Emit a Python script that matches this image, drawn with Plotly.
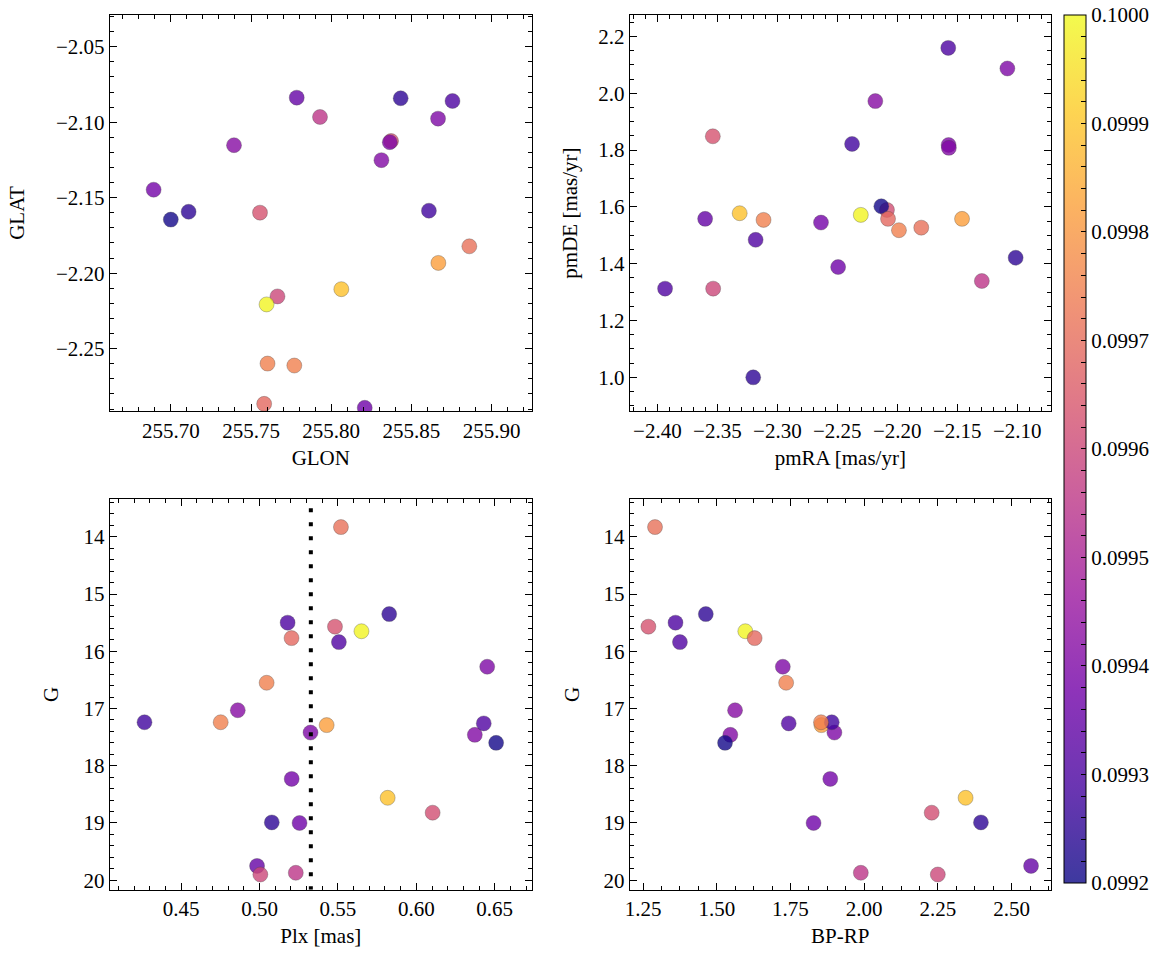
import plotly.graph_objects as go
import plotly.colors as pc

# ---- data (one entry per star) ----
star = ["S23", "S20", "S25", "S13", "S15", "S16", "S11", "S17", "S12", "S5", "S6", "S1", "S2",
        "S3", "S4", "S7", "S8", "S9", "S10", "S14", "S18", "S19", "S21", "S22", "S24"]
color_val = [0.09935, 0.09962, 0.09960, 0.09982, 0.09940, 0.09941, 0.09928, 0.09921, 0.09975, 0.09999,
             0.09969, 0.09971, 0.09925, 0.09930, 0.09963, 0.09931, 0.09940, 0.09975, 0.09942, 0.09931,
             0.09938, 0.09989, 0.09925, 0.09937, 0.09955]
glon = [255.7785, 255.8373, 255.7665, 255.8668, 255.8365, 255.8313, 255.8609, 255.7000, 255.7770, 255.7597,
        255.7582, 255.8861, 255.8433, 255.8756, 255.7556, 255.7900, 255.8666, 255.7603, 255.7394, 255.7300,
        255.6893, 255.8063, 255.7111, 255.8209, 255.7930]
glat = [-2.0837, -2.1124, -2.2154, -2.1932, -2.1132, -2.1251, -2.1586, -2.1645, -2.2612, -2.2207,
        -2.2866, -2.1822, -2.0841, -2.0859, -2.1599, -2.3050, -2.0976, -2.2599, -2.1152, -2.3180,
        -2.1447, -2.2106, -2.1593, -2.2892, -2.0965]
pmra = [-2.3602, -2.2086, -2.3535, -2.1460, -2.1572, -2.1570, -2.2377, -2.2133, -2.1986, -2.2304,
        -2.2077, -2.1800, -2.3201, -2.1575, -2.3538, -2.3181, -2.1082, -2.3115, -2.2183, -2.3936,
        -2.2636, -2.3314, -2.1013, -2.2493, -2.1295]
pmde = [1.558, 1.5895, 1.3123, 1.558, 1.818, 1.808, 1.8218, 1.6023, 1.518, 1.572,
        1.558, 1.527, 1.000, 2.160, 1.8487, 1.4842, 2.0875, 1.5544, 1.9727, 1.3123,
        1.545, 1.5778, 1.4211, 1.3883, 1.3392]
plx = [0.4984, 0.6104, 0.5005, 0.5428, 0.5325, 0.6373, 0.4266, 0.6509, 0.4752, 0.5650,
       0.5204, 0.5519, 0.5827, 0.5179, 0.5481, 0.5506, 0.6452, 0.5045, 0.4861, 0.6430,
       0.5205, 0.5817, 0.5078, 0.5255, 0.5231]
gmag = [19.75, 18.82, 19.90, 17.29, 17.42, 17.46, 17.24, 17.60, 17.24, 15.65,
        15.77, 13.83, 15.35, 15.50, 15.57, 15.84, 16.27, 16.55, 17.03, 17.26,
        18.23, 18.56, 18.99, 19.00, 19.87]
bprp = [2.566, 2.229, 2.2497, 1.855, 1.899, 1.546, 1.890, 1.528, 1.8536, 1.5968,
        1.6284, 1.2905, 1.4628, 1.360, 1.268, 1.375, 1.724, 1.7353, 1.562, 1.744,
        1.885, 2.344, 2.396, 1.8283, 1.9886]
plx_ref = 0.5327
cbar_ticks = [0.0992, 0.0993, 0.0994, 0.0995, 0.0996, 0.0997, 0.0998, 0.0999, 0.1000]

# ---- style ----
FONT = "Liberation Serif"
FS = 21
W, H = 1166, 965


def rgba(hexc, a):
    r, g, b = pc.hex_to_rgb(hexc)
    return f"rgba({r},{g},{b},{a})"


plasma = pc.sequential.Plasma
cscale = [[i / (len(plasma) - 1), rgba(c, 0.8)] for i, c in enumerate(plasma)]

# colorbar ticks incl. minor ones (labels only on majors)
cb_vals, cb_text = [], []
for i in range(41):
    v = 0.0992 + i * 0.00002
    cb_vals.append(v)
    cb_text.append(f"{v:.4f}" if i % 5 == 0 else "")

fig = go.Figure()
panels = [(glon, glat, "x", "y"), (pmra, pmde, "x2", "y2"), (plx, gmag, "x3", "y3"), (bprp, gmag, "x4", "y4")]
for xs, ys, xa, ya in panels:
    fig.add_trace(go.Scatter(
        x=xs, y=ys, xaxis=xa, yaxis=ya, mode="markers", text=star,
        marker=dict(size=15, color=color_val, coloraxis="coloraxis",
                    line=dict(width=0.6, color="rgba(70,70,70,0.55)")),
        showlegend=False, cliponaxis=True))

fig.add_shape(type="line", xref="x3", yref="y3", x0=plx_ref, x1=plx_ref, y0=13.5, y1=20.166,
              line=dict(color="black", width=4, dash="4px,10px"))


def axis(rng, dtick, minor, fmt, title, domain, anchor, standoff):
    return dict(range=rng, dtick=dtick, tick0=0, tickformat=fmt, domain=domain, anchor=anchor,
                ticks="inside", ticklen=7, tickwidth=1, tickcolor="black",
                mirror="allticks", showline=True, linecolor="black", linewidth=1.2,
                showgrid=False, zeroline=False,
                minor=dict(dtick=minor, tick0=0, ticks="inside", ticklen=4, tickwidth=0.8,
                           tickcolor="black", showgrid=False),
                tickfont=dict(family=FONT, size=FS, color="black"),
                title=dict(text=title, standoff=standoff, font=dict(family=FONT, size=FS, color="black")))


xd1 = [105.3 / W, 529.0 / W]
xd2 = [627.5 / W, 1050.3 / W]
yd_top = [1 - 412.7 / H, 1 - 14.7 / H]
yd_bot = [1 - 892.5 / H, 1 - 500.7 / H]

fig.update_layout(
    width=W, height=H, margin=dict(l=0, r=0, t=0, b=0),
    paper_bgcolor="white", plot_bgcolor="white",
    font=dict(family=FONT, size=FS, color="black"),
    xaxis=axis([255.662, 255.925], 0.05, 0.01, ".2f", "GLON", xd1, "y", 8),
    yaxis=axis([-2.2916, -2.0287], 0.05, 0.01, ".2f", "GLAT", yd_top, "x", 25),
    xaxis2=axis([-2.423, -2.072], 0.05, 0.01, ".2f", "pmRA [mas/yr]", xd2, "y2", 8),
    yaxis2=axis([0.880, 2.277], 0.2, 0.05, ".1f", "pmDE [mas/yr]", yd_top, "x2", 14),
    xaxis3=axis([0.4045, 0.6736], 0.05, 0.01, ".2f", "Plx [mas]", xd1, "y3", 8),
    yaxis3=axis([20.166, 13.342], 1, 0.2, "d", "G", yd_bot, "x3", 19),
    xaxis4=axis([1.205, 2.633], 0.25, 0.0625, ".2f", "BP-RP", xd2, "y4", 8),
    yaxis4=axis([20.166, 13.342], 1, 0.2, "d", "G", yd_bot, "x4", 18),
    coloraxis=dict(
        colorscale=cscale, cmin=0.0992, cmax=0.1000,
        colorbar=dict(
            x=1064 / W, xanchor="left", xpad=0, ypad=0,
            y=1 - 15 / H, yanchor="top", lenmode="pixels", len=868,
            thickness=22, outlinecolor="black", outlinewidth=1,
            tickmode="array", tickvals=cb_vals, ticktext=cb_text,
            ticks="inside", ticklen=5, tickwidth=1, tickcolor="black",
            tickfont=dict(family=FONT, size=FS, color="black"),
        ),
    ),
)

fig.write_html("out.html", config={"displayModeBar": False},
               post_script="document.body.style.margin='0px';document.body.style.overflow='hidden';")
